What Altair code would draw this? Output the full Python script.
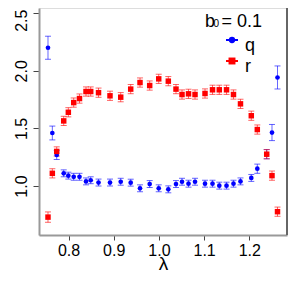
import altair as alt
import pandas as pd

lam = [0.7546, 0.7642, 0.7739, 0.7894, 0.7996, 0.8115, 0.8243, 0.8387, 0.8491, 0.8664,
       0.8918, 0.9155, 0.9376, 0.9582, 0.9796, 0.9996, 1.0208, 1.0378, 1.0511, 1.0655,
       1.0799, 1.1020, 1.1186, 1.1336, 1.1496, 1.1650, 1.1805, 1.2044, 1.2177, 1.2385,
       1.2502, 1.2624]
q = [2.20, 1.46, 1.27, 1.11, 1.09, 1.08, 1.08, 1.04, 1.05, 1.03,
     1.03, 1.037, 1.029, 0.98, 1.017, 0.98, 0.971, 1.017, 1.037, 1.02,
     1.037, 1.02, 1.02, 1.003, 1.003, 1.02, 1.04, 1.07, 1.15, 1.276,
     1.464, 1.942]
q_err = [0.10, 0.06, 0.04, 0.03, 0.03, 0.03, 0.03, 0.03, 0.03, 0.03,
         0.03, 0.03, 0.03, 0.03, 0.03, 0.03, 0.03, 0.03, 0.03, 0.03,
         0.03, 0.03, 0.03, 0.03, 0.03, 0.03, 0.03, 0.03, 0.04, 0.04,
         0.07, 0.10]
r = [0.73, 1.11, 1.30, 1.565, 1.64, 1.724, 1.759, 1.82, 1.82, 1.81,
     1.783, 1.771, 1.841, 1.898, 1.872, 1.930, 1.910, 1.841, 1.794, 1.80,
     1.794, 1.803, 1.835, 1.835, 1.835, 1.794, 1.713, 1.61, 1.49, 1.276,
     1.09, 0.777]
r_err = [0.045, 0.04, 0.04, 0.04, 0.04, 0.04, 0.04, 0.04, 0.04, 0.04,
         0.04, 0.04, 0.04, 0.04, 0.04, 0.04, 0.04, 0.04, 0.04, 0.04,
         0.04, 0.04, 0.04, 0.04, 0.04, 0.04, 0.04, 0.04, 0.04, 0.04,
         0.04, 0.04]

series = ["q", "r"]
colors = ["#0000ff", "#ff0000"]
x_ticks = [0.8, 0.9, 1.0, 1.1, 1.2]
y_ticks = [1.0, 1.5, 2.0, 2.5]
x_domain = [0.7347, 1.2834]
y_domain = [0.5747, 2.545]

rows = []
for name, vals, errs in (("q", q, q_err), ("r", r, r_err)):
    for l, v, e in zip(lam, vals, errs):
        rows.append({"lam": l, "val": v, "lo": v - e, "hi": v + e, "s": name})
df = pd.DataFrame(rows)

FONT = "Liberation Sans"
W, H = 248, 227

xs = alt.Scale(domain=x_domain, nice=False, zero=False)
ys = alt.Scale(domain=y_domain, nice=False, zero=False)
cs = alt.Scale(domain=series, range=colors)

xax = alt.Axis(values=x_ticks, format=".1f", grid=False, labelFontSize=16, labelFont=FONT,
               labelColor="black", tickSize=5, tickColor="#444", domainColor="#999",
               domainWidth=2, labelPadding=2, title="λ", titleFontSize=19, titleFont=FONT,
               titleFontWeight="normal", titleBaseline="alphabetic", titleY=34, labelFlush=False)
yax = alt.Axis(values=y_ticks, format=".1f", grid=False, labelFontSize=16, labelFont=FONT,
               labelColor="black", tickSize=6, tickColor="#444", domainColor="#999",
               domainWidth=2, labelAngle=270, labelAlign="center", labelBaseline="alphabetic",
               labelPadding=7, title=None, labelFlush=False,
               labelOffset={"condition": {"test": "datum.value >= 2.4", "value": 7}, "value": 0})

base = alt.Chart(df)
X = alt.X("lam:Q", scale=xs, axis=xax)
C = alt.Color("s:N", scale=cs, legend=None)

bars = base.mark_rule(strokeWidth=1, opacity=0.6).encode(
    x=X, y=alt.Y("lo:Q", scale=ys, axis=yax), y2="hi:Q", color=C)
cap_lo = base.mark_point(shape="stroke", size=36, opacity=0.6, strokeWidth=1, filled=False).encode(
    x="lam:Q", y="lo:Q", color=C)
cap_hi = base.mark_point(shape="stroke", size=36, opacity=0.6, strokeWidth=1, filled=False).encode(
    x="lam:Q", y="hi:Q", color=C)
pts_q = alt.Chart(df[df.s == "q"]).mark_point(shape="circle", filled=True, size=22, opacity=1).encode(
    x="lam:Q", y="val:Q", color=C)
pts_r = alt.Chart(df[df.s == "r"]).mark_point(shape="square", filled=True, size=30, opacity=1).encode(
    x="lam:Q", y="val:Q", color=C)

border = alt.Chart(df).mark_rule(color="#666", strokeWidth=1).encode(
    x=alt.value(W), y=alt.value(0), y2=alt.value(H))

# legend
leg = pd.DataFrame({"s": series, "ly": [32, 53], "ty": [38, 59]})
leg_line = alt.Chart(leg).mark_rule(strokeWidth=2).encode(
    x=alt.value(187), x2=alt.value(199), y=alt.Y("ly:Q", scale=None), color=C)
leg_q = alt.Chart(leg[leg.s == "q"]).mark_point(shape="circle", filled=True, size=40, opacity=1).encode(
    x=alt.value(193), y=alt.Y("ly:Q", scale=None), color=C)
leg_r = alt.Chart(leg[leg.s == "r"]).mark_point(shape="square", filled=True, size=48, opacity=1).encode(
    x=alt.value(193), y=alt.Y("ly:Q", scale=None), color=C)
leg_txt = alt.Chart(leg).mark_text(align="left", fontSize=18, font=FONT, color="black").encode(
    x=alt.value(206), y=alt.Y("ty:Q", scale=None), text="s:N")
t1 = alt.Chart(leg.head(1)).mark_text(align="left", fontSize=18, font=FONT, text="b").encode(
    x=alt.value(166), y=alt.value(13.5))
t2 = alt.Chart(leg.head(1)).mark_text(align="left", fontSize=10, font=FONT, text="0").encode(
    x=alt.value(174.5), y=alt.value(16))
t3 = alt.Chart(leg.head(1)).mark_text(align="left", fontSize=18, font=FONT, text="= 0.1").encode(
    x=alt.value(182.5), y=alt.value(13.5))

chart = alt.layer(bars, cap_lo, cap_hi, pts_q, pts_r, border,
                  leg_line, leg_q, leg_r, leg_txt, t1, t2, t3).properties(
    width=W, height=H,
    autosize=alt.AutoSizeParams(type="none"),
    padding={"left": 31, "top": 0, "right": 4, "bottom": 38},
).configure_view(stroke=None).configure(background="white")

chart.save("out.html", embed_options={"renderer": "svg", "actions": False})
